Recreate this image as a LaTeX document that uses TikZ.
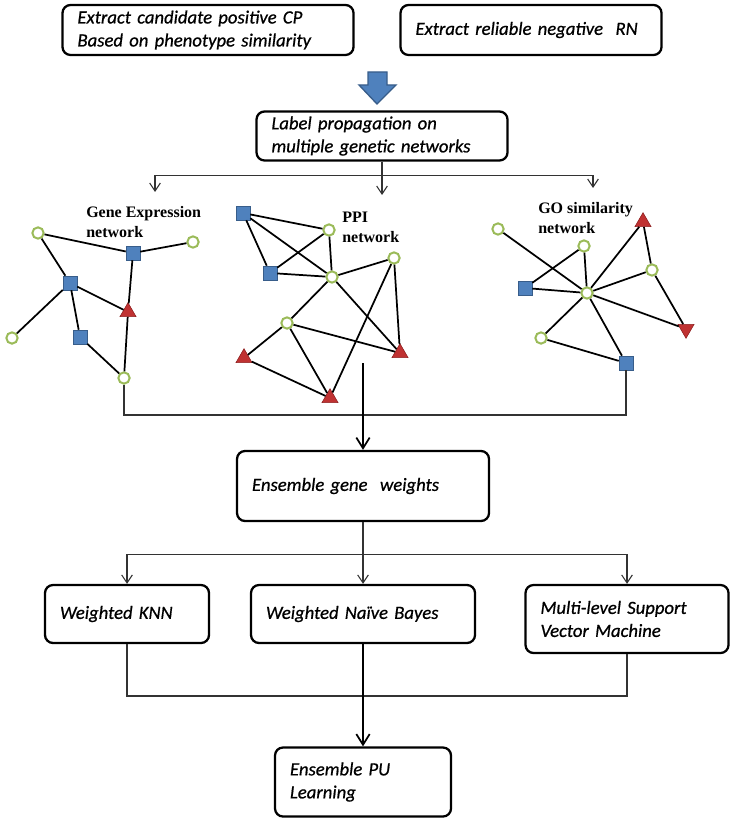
\documentclass[tikz,border=0pt]{standalone}
\usepackage{fontspec}
\setmainfont{Carlito}
\newfontfamily\boxfont[FakeBold=0.7]{Carlito}
\newfontfamily\netfont{Liberation Serif}
\usetikzlibrary{arrows.meta, shapes.geometric}
\definecolor{nodegreen}{RGB}{155,187,89}
\definecolor{nodeblue}{RGB}{79,129,189}
\definecolor{nodeblueline}{RGB}{56,93,138}
\definecolor{nodered}{RGB}{192,50,50}
\definecolor{noderedline}{RGB}{140,30,30}

\begin{document}
\begin{tikzpicture}[
						x=0.75pt, y=-0.75pt,
						>={Straight Barb[length=6pt,width=8pt]},
						box/.style = {draw, line width=1.7pt, rounded corners=6pt, align=left, inner xsep=11.25pt, font=\boxfont\fontsize{14}{17.25}\selectfont\itshape},
						netlabel/.style = {anchor=west, align=left, inner sep=0pt, font=\netfont\bfseries\fontsize{12}{15}\selectfont},
						gnode/.style = {draw=nodegreen, line width=1.5pt, fill=white, circle, inner sep=0pt, minimum size=8.5pt},
						bnode/.style = {draw=nodeblueline, fill=nodeblue, rectangle, inner sep=0pt, minimum size=10.5pt},
						rnode/.style = {draw=noderedline, fill=nodered, regular polygon, regular polygon sides=3, inner sep=0pt, minimum size=14pt},
						link/.style = {line width=1.3pt},
						flow/.style = {line width=0.8pt, draw=black!80},
						mainflow/.style = {line width=1.3pt, >={Straight Barb[length=8pt,width=10pt]}}
					]
\useasboundingbox (0,0) rectangle (735,823);

\node[box, text width=195.75pt, minimum height=37.5pt] (cp) at (208,30) {Extract candidate positive CP\\Based on phenotype similarity};
\node[box, text width=173.25pt, minimum height=37.5pt] (rn) at (531,30) {Extract reliable negative\ \ RN};
\node[box, text width=165.75pt, minimum height=36.75pt] (lp) at (382,136) {Label propagation on\\multiple genetic networks};
\filldraw[fill=nodeblue, draw=nodeblueline, line width=1pt] (368,72) -- (387,72) -- (387,85) -- (396,85) -- (377,104) -- (359,85) -- (368,85) -- cycle;

\node[netlabel] (gel) at (86,222) {Gene Expression\\network};
\node[netlabel] (ppil) at (342,227) {PPI\\network};
\node[netlabel] (gol) at (538,218) {GO similarity\\network};

\node[gnode] (e1) at (38,233) {};
\node[gnode] (e2) at (193,242) {};
\node[bnode] (e3) at (133,253) {};
\node[bnode] (e4) at (70,283) {};
\node[rnode] (e5) at (128,312) {};
\node[gnode] (e6) at (12,338) {};
\node[bnode] (e7) at (80,337) {};
\node[gnode] (e8) at (124,378) {};

\node[bnode] (p1) at (243,213) {};
\node[gnode] (p2) at (329,230) {};
\node[bnode] (p3) at (270,273) {};
\node[gnode] (p4) at (332,277) {};
\node[gnode] (p5) at (394,258) {};
\node[gnode] (p6) at (287,323) {};
\node[rnode] (p7) at (244,358) {};
\node[rnode] (p8) at (400,353) {};
\node[rnode] (p9) at (330,398) {};

\node[gnode] (o1) at (498,229) {};
\node[gnode] (o2) at (584,246) {};
\node[rnode] (o3) at (643,222) {};
\node[bnode] (o4) at (525,288) {};
\node[gnode] (o5) at (587,293) {};
\node[gnode] (o6) at (652,270) {};
\node[rnode, shape border rotate=180] (o7) at (686,329) {};
\node[gnode] (o8) at (541,338) {};
\node[bnode] (o9) at (626,363) {};

\draw[link] (e1) -- (e3);
\draw[link] (e3) -- (e2);
\draw[link] (e1) -- (e4);
\draw[link] (e4) -- (e5);
\draw[link] (e4) -- (e6);
\draw[link] (e4) -- (e7);
\draw[link] (e7) -- (e8);
\draw[link] (e3) -- (e5);
\draw[link] (e5) -- (e8);

\draw[link] (p1) -- (p2);
\draw[link] (p1) -- (p3);
\draw[link] (p1) -- (p4);
\draw[link] (p3) -- (p2);
\draw[link] (p3) -- (p4);
\draw[link] (p2) -- (p4);
\draw[link] (p4) -- (p5);
\draw[link] (p4) -- (p6);
\draw[link] (p4) -- (p8);
\draw[link] (p5) -- (p8);
\draw[link] (p5) -- (p9);
\draw[link] (p6) -- (p7);
\draw[link] (p6) -- (p9);
\draw[link] (p6) -- (p8);
\draw[link] (p7) -- (p9);

\draw[link] (o1) -- (o5);
\draw[link] (o2) -- (o4);
\draw[link] (o2) -- (o5);
\draw[link] (o4) -- (o5);
\draw[link] (o5) -- (o3);
\draw[link] (o5) -- (o6);
\draw[link] (o5) -- (o7);
\draw[link] (o5) -- (o8);
\draw[link] (o5) -- (o9);
\draw[link] (o3) -- (o6);
\draw[link] (o6) -- (o7);
\draw[link] (o8) -- (o9);

\coordinate (ge) at (155,192);
\coordinate (ppi) at (382,195);
\coordinate (go) at (593,188);
\draw[flow, ->] (lp.south) -- ++(0,14) -| (ge);
\draw[flow, ->] (lp.south) -- (ppi);
\draw[flow, ->] (lp.south) -- ++(0,14) -| (go);

\node[box, text width=166.5pt, minimum height=52.5pt] (egw) at (363,486) {Ensemble gene\ \ weights};
\coordinate (mid) at (363,415);
\coordinate (ppiout) at (363,363);
\draw[flow] (e8) |- (mid) -| (o9);
\draw[mainflow, ->] (ppiout) -- (egw);

\node[box, text width=100.5pt, minimum height=43.5pt] (knn) at (127,614) {Weighted KNN};
\node[box, text width=145.5pt, minimum height=43.5pt] (nb) at (363,614) {Weighted Naïve Bayes};
\node[box, text width=129.75pt, minimum height=51pt] (svm) at (627,619) {Multi-level Support\\Vector Machine};
\node[box, text width=109.5pt, minimum height=51.75pt] (pu) at (363,782) {Ensemble PU\\Learning};

\draw[flow, ->] (egw.south) -- ++(0,32) -| (knn.north);
\draw[flow, ->] (egw.south) -- (nb.north);
\draw[flow, ->] (egw.south) -- ++(0,32) -| (svm.north);

\coordinate (join) at (363,696);
\draw[flow] (knn.south) |- (join) -| (svm.south);
\draw[mainflow, ->] (nb.south) -- (pu.north);
\end{tikzpicture}
\end{document}
